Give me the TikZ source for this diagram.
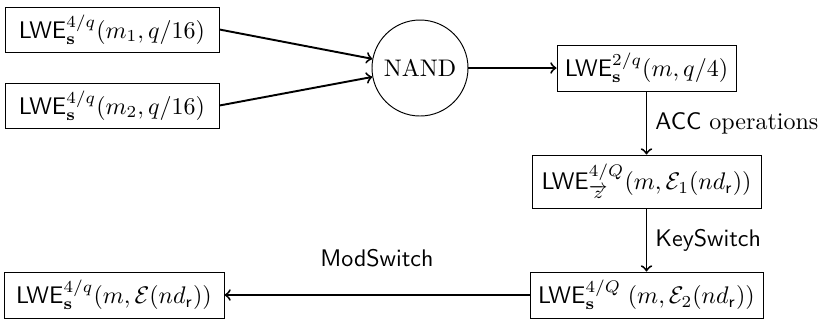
\documentclass[tikz,border=0pt]{standalone}
\usepackage{amsmath,amssymb}
\begin{document}
\begin{tikzpicture}[x=0.41667pt,y=-0.41667pt,
  box/.style={draw, line width=0.4pt, inner sep=0pt},
  gate/.style={draw, circle, line width=0.4pt, inner sep=0pt, minimum size=40pt},
  conn/.style={->, thick}]
\useasboundingbox (0,0) rectangle (825,320);
\node[box, minimum width=89.17pt, minimum height=18.75pt] (in1) at (112,29.5)
  {$\mathsf{LWE}^{4/q}_{\mathbf{s}}(m_1, q/16)$};
\node[box, minimum width=89.17pt, minimum height=18.75pt] (in2) at (112,105.5)
  {$\mathsf{LWE}^{4/q}_{\mathbf{s}}(m_2, q/16)$};
\node[gate] (nand) at (420,68) {NAND};
\node[box, minimum width=74.58pt, minimum height=19.17pt] (out) at (646.5,68)
  {$\mathsf{LWE}^{2/q}_{\mathbf{s}}(m, q/4)$};
\node[box, minimum width=95.42pt, minimum height=22.08pt] (acc) at (646.5,181.5)
  {$\mathsf{LWE}^{4/Q}_{\overrightarrow{z}}(m, \mathcal{E}_1(nd_{\mathsf{r}}))$};
\node[box, minimum width=97.08pt, minimum height=19.17pt] (ks) at (646.5,295)
  {$\mathsf{LWE}^{4/Q}_{\mathbf{s}}\;(m, \mathcal{E}_2(nd_{\mathsf{r}}))$};
\node[box, minimum width=91.67pt, minimum height=19.17pt] (ms) at (114,295)
  {$\mathsf{LWE}^{4/q}_{\mathbf{s}}(m, \mathcal{E}(nd_{\mathsf{r}}))$};
\draw[conn] (in1.east) -- (nand);
\draw[conn] (in2.east) -- (nand);
\draw[conn] (nand) -- (out);
\draw[conn] (out) -- node[right] {$\mathsf{ACC}$ operations} (acc);
\draw[conn] (acc) -- node[right] {$\mathsf{KeySwitch}$} (ks);
\draw[conn] (ks) -- node[above=8pt] {$\mathsf{ModSwitch}$} (ms);
\end{tikzpicture}
\end{document}
